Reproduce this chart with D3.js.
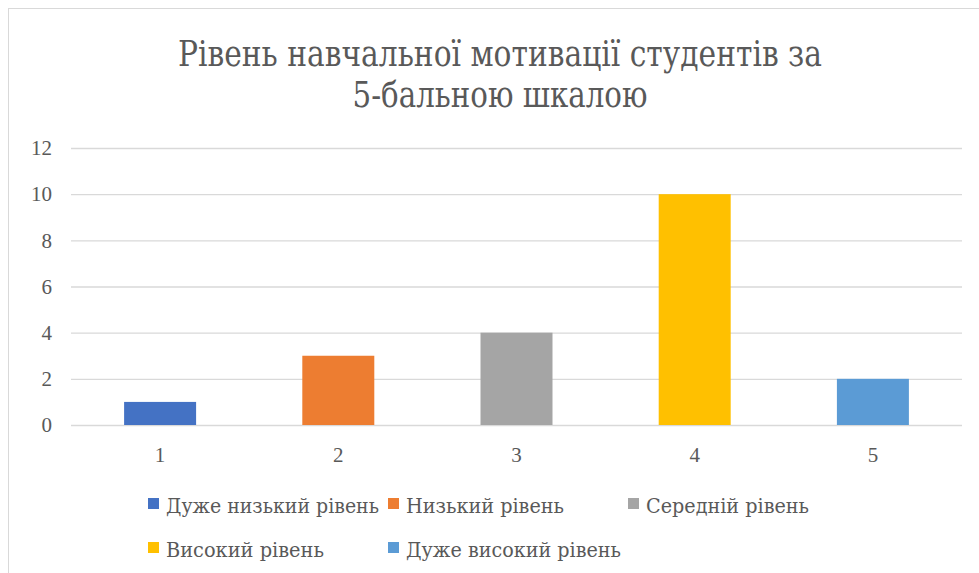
<!DOCTYPE html>
<html>
<head>
<meta charset="utf-8">
<script src="https://cdn.jsdelivr.net/npm/d3@7"></script>
<style>
  html, body { margin: 0; padding: 0; background: #ffffff; }
  svg { display: block; }
  svg text { fill: #595959; }
</style>
</head>
<body>
<svg id="chart" width="979" height="573"></svg>
<script>
const titleLines = ["Рівень навчальної мотивації студентів за", "5-бальною шкалою"];
const categories = ["1", "2", "3", "4", "5"];
const values = [1, 3, 4, 10, 2];
const seriesNames = ["Дуже низький рівень", "Низький рівень", "Середній рівень", "Високий рівень", "Дуже високий рівень"];
const colors = ["#4472C4", "#ED7D31", "#A5A5A5", "#FFC000", "#5B9BD5"];
const yTicks = [0, 2, 4, 6, 8, 10, 12];

const FONT = "'Liberation Serif', serif";
const FONT2 = "'DejaVu Serif', serif";
const svg = d3.select("#chart");

svg.append("rect")
  .attr("x", 8.5).attr("y", 8.5)
  .attr("width", 1100).attr("height", 700)
  .attr("fill", "#ffffff")
  .attr("stroke", "#D9D9D9").attr("stroke-width", 1);

const titleWidths = [644, 295];
svg.append("g").selectAll("text")
  .data(titleLines)
  .join("text")
  .attr("x", 500)
  .attr("y", (d, i) => 66 + i * 41)
  .attr("text-anchor", "middle")
  .attr("font-size", 35)
  .style("font-family", FONT2)
  .attr("textLength", (d, i) => titleWidths[i])
  .attr("lengthAdjust", "spacingAndGlyphs")
  .text(d => d);

const x = d3.scaleBand()
  .domain(categories)
  .range([71, 962])
  .paddingInner(0.596)
  .paddingOuter(0.298);

const y = d3.scaleLinear()
  .domain([0, 12])
  .range([425, 148]);

const yAxis = svg.append("g")
  .attr("transform", "translate(71,0)")
  .call(d3.axisLeft(y).tickValues(yTicks).tickSize(-(962 - 71)).tickPadding(19));
yAxis.select(".domain").remove();
yAxis.selectAll(".tick line").attr("stroke", "#D9D9D9").attr("stroke-width", 1.3);
yAxis.selectAll(".tick text")
  .attr("font-size", 21)
  .style("font-family", FONT)
  .style("fill", "#595959");

svg.append("g").selectAll("rect")
  .data(categories)
  .join("rect")
  .attr("x", d => x(d))
  .attr("width", x.bandwidth())
  .attr("y", (d, i) => y(values[i]))
  .attr("height", (d, i) => y(0) - y(values[i]))
  .attr("fill", (d, i) => colors[i]);

const xAxis = svg.append("g")
  .attr("transform", "translate(0,425)")
  .call(d3.axisBottom(x).tickSize(0).tickPadding(22));
xAxis.select(".domain").remove();
xAxis.selectAll(".tick text")
  .attr("font-size", 21)
  .style("font-family", FONT)
  .style("fill", "#595959");

const legendPos = [[148, 498], [388, 498], [628, 498], [148, 542], [388, 542]];
const legendWidths = [213, 158, 163, 158, 215];
const lg = svg.append("g").selectAll("g")
  .data(seriesNames)
  .join("g")
  .attr("transform", (d, i) => `translate(${legendPos[i][0]},${legendPos[i][1]})`);
lg.append("rect")
  .attr("width", 11).attr("height", 11)
  .attr("fill", (d, i) => colors[i]);
lg.append("text")
  .attr("x", 18).attr("y", 15)
  .attr("font-size", 20)
  .style("font-family", FONT2)
  .attr("textLength", (d, i) => legendWidths[i])
  .attr("lengthAdjust", "spacingAndGlyphs")
  .text(d => d);
</script>
</body>
</html>
